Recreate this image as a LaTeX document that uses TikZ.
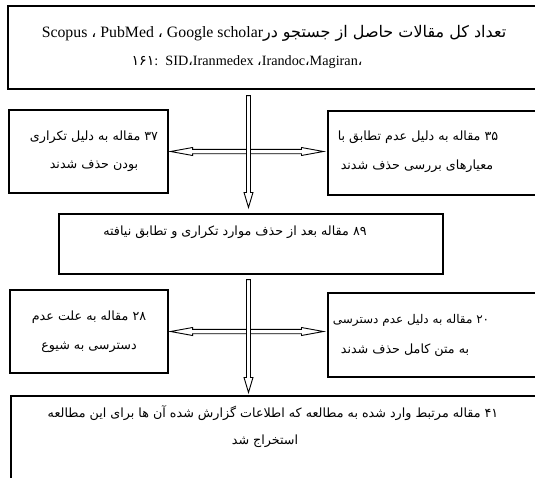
\documentclass[tikz,border=0pt]{standalone}
\usepackage{fontspec}
\setmainfont{Liberation Serif}
\newfontfamily\fa[Script=Arabic]{DejaVu Sans}
\TeXXeTstate=1
\usetikzlibrary{calc}
\newcommand{\hollowdown}[2]{%
  \draw[hollow] ($(#1)+(-2,0)$) -- ($(#2)+(-2,-15)$) -- ($(#2)+(-4.5,-15)$) -- (#2)
    -- ($(#2)+(4.5,-15)$) -- ($(#2)+(2,-15)$) -- ($(#1)+(2,0)$) -- cycle;}
\newcommand{\hollowlr}[2]{%
  \draw[hollow] (#1) -- ($(#1)+(22,-4)$) -- ($(#1)+(22,-2.2)$) -- ($(#2)+(-22,-2.2)$)
    -- ($(#2)+(-22,-4)$) -- (#2) -- ($(#2)+(-22,4)$) -- ($(#2)+(-22,2.2)$)
    -- ($(#1)+(22,2.2)$) -- ($(#1)+(22,4)$) -- cycle;}
\begin{document}
\begin{tikzpicture}[x=1pt,y=-1pt,
  box/.style={draw,line width=1.1pt,minimum width=#1,inner sep=0pt},
  ptxt/.style={inner sep=0pt,font=\fa\fontsize{12.7}{15}\selectfont},
  ltxt/.style={inner sep=0pt,font=\fontsize{14.2}{16}\selectfont},
  hollow/.style={draw,line width=0.9pt,fill=white,line join=miter}]
\useasboundingbox (0,0) rectangle (535,477);
\clip (0,0) rectangle (535,477);
% boxes
\node[box=537pt,minimum height=83pt] (top) at (276.5,47.5) {};
\node[box=159pt,minimum height=83pt] (b37) at (88.5,151.5) {};
\node[box=217pt,minimum height=84pt] (b35) at (436.5,153) {};
\node[box=384pt,minimum height=60pt] (mid) at (251,244) {};
\node[box=158pt,minimum height=83pt] (b28) at (89,331.5) {};
\node[box=217pt,minimum height=84pt] (b20) at (436.5,335) {};
\node[box=534pt,minimum height=94pt] (bot) at (278,443) {};
% texts
\node[ltxt,font=\fontsize{15.8}{18}\selectfont] (t1) at (274,33) {Scopus {\fa ،} PubMed {\fa ،} Google scholar{\fa\fontsize{16}{18}\selectfont\beginR تعداد کل مقالات حاصل از جستجو در\endR}};
\node[ltxt] (t2) at (247,62) {{\fa ۱۶۱}:\ \ SID{\fa ،}Iranmedex {\fa ،}Irandoc{\fa ،}Magiran{\fa ،}};
\node[ptxt] (t37a) at (94,137) {\beginR ۳۷ مقاله به دلیل تکراری\endR};
\node[ptxt] (t37b) at (94,166) {\beginR بودن حذف شدند\endR};
\node[ptxt] (t35a) at (418,137) {\beginR ۳۵ مقاله به دلیل عدم تطابق با\endR};
\node[ptxt] (t35b) at (417,166) {\beginR معیارهای بررسی حذف شدند\endR};
\node[ptxt] (tmid) at (235,232) {\beginR ۸۹ مقاله بعد از حذف موارد تکراری و تطابق نیافته\endR};
\node[ptxt] (t28a) at (89,317) {\beginR ۲۸ مقاله به علت عدم\endR};
\node[ptxt] (t28b) at (89,347) {\beginR دسترسی به شیوع\endR};
\node[ptxt,font=\fa\fontsize{12}{15}\selectfont] (t20a) at (411,320) {\beginR ۲۰ مقاله به دلیل عدم دسترسی\endR};
\node[ptxt] (t20b) at (405,350) {\beginR به متن کامل حذف شدند\endR};
\node[ptxt] (tb1) at (273,413) {\beginR ۴۱ مقاله مرتبط وارد شده به مطالعه که اطلاعات گزارش شده آن ها برای این مطالعه\endR};
\node[ptxt] (tb2) at (265,441) {\beginR استخراج شد\endR};
% arrows
\coordinate (ax) at (248.5,0);
\coordinate (h1l) at ($(b37.east)+(2,0)$);
\coordinate (h1r) at ($(b37.east -| b35.west)+(-4,0)$);
\coordinate (h2l) at ($(b28.east)+(2,0)$);
\coordinate (h2r) at ($(b28.east -| b20.west)+(-4,0)$);
\coordinate (v1s) at ($(top.south -| ax)+(0,6)$);
\coordinate (v1e) at ($(mid.north -| ax)+(0,-6)$);
\coordinate (v2s) at ($(mid.south -| ax)+(0,5)$);
\coordinate (v2e) at ($(bot.north -| ax)+(0,-3)$);
\hollowlr{h1l}{h1r}
\hollowdown{v1s}{v1e}
\hollowlr{h2l}{h2r}
\hollowdown{v2s}{v2e}
\end{tikzpicture}
\end{document}
